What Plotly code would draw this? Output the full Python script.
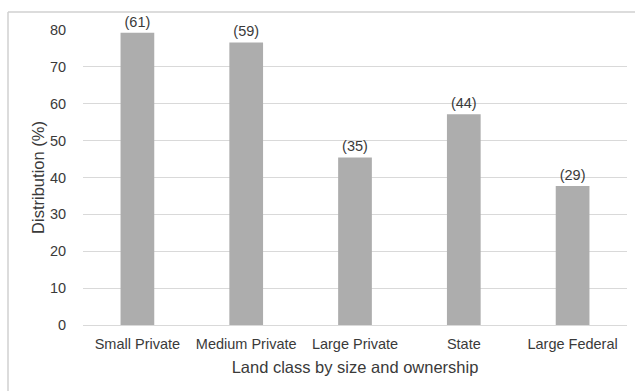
import plotly.graph_objects as go

# Land classes and respondent counts (share of 77 respondents)
categories = ["Small Private", "Medium Private", "Large Private", "State", "Large Federal"]
counts = [61, 59, 35, 44, 29]
total_respondents = 77
shares = [c / total_respondents * 100 for c in counts]
count_labels = [f"({c})" for c in counts]
y_ticks = [0, 10, 20, 30, 40, 50, 60, 70, 80]

W, H = 635, 391
ML, MR, MT, MB = 83, 8, 30, 66
plot_w = W - ML - MR
plot_h = H - MT - MB

text_color = "#3A3A3A"
font_family = "Liberation Sans, Arial, sans-serif"

fig = go.Figure(
    go.Bar(
        x=categories,
        y=shares,
        text=count_labels,
        textposition="outside",
        textfont=dict(size=14.5, color=text_color, family=font_family),
        marker=dict(color="#ADADAD", line=dict(width=0)),
        cliponaxis=False,
    )
)

# Frame around the chart area (left and top edges)
fx0 = (8 - ML) / plot_w
fy1 = 1 + (MT - 12) / plot_h
fig.add_shape(type="line", xref="paper", yref="paper",
              x0=fx0, x1=fx0, y0=-(MB + 5) / plot_h, y1=fy1,
              line=dict(color="#D0D0D0", width=1.5))
fig.add_shape(type="line", xref="paper", yref="paper",
              x0=fx0, x1=1 + (MR + 5) / plot_w, y0=fy1, y1=fy1,
              line=dict(color="#D0D0D0", width=1.5))

fig.update_layout(
    width=W,
    height=H,
    margin=dict(l=ML, r=MR, t=MT, b=MB),
    paper_bgcolor="white",
    plot_bgcolor="white",
    bargap=0.69,
    showlegend=False,
    font=dict(family=font_family, size=14.5, color=text_color),
    uniformtext=dict(minsize=14, mode="show"),
)

fig.update_xaxes(
    title=dict(text="Land class by size and ownership", standoff=10,
               font=dict(size=16.5, color=text_color)),
    tickfont=dict(size=14.5, color=text_color),
    showline=True,
    linecolor="#D9D9D9",
    linewidth=1,
    ticks="outside",
    ticklen=6,
    tickcolor="rgba(0,0,0,0)",
    showgrid=False,
)

fig.update_yaxes(
    title=dict(text="Distribution (%)", standoff=1,
               font=dict(size=16.5, color=text_color)),
    range=[0, 80],
    tickvals=y_ticks,
    tickfont=dict(size=14.5, color=text_color),
    showgrid=True,
    gridcolor="#D9D9D9",
    gridwidth=1,
    zeroline=False,
    ticks="outside",
    ticklen=13,
    tickcolor="rgba(0,0,0,0)",
)

fig.write_html("out.html")
